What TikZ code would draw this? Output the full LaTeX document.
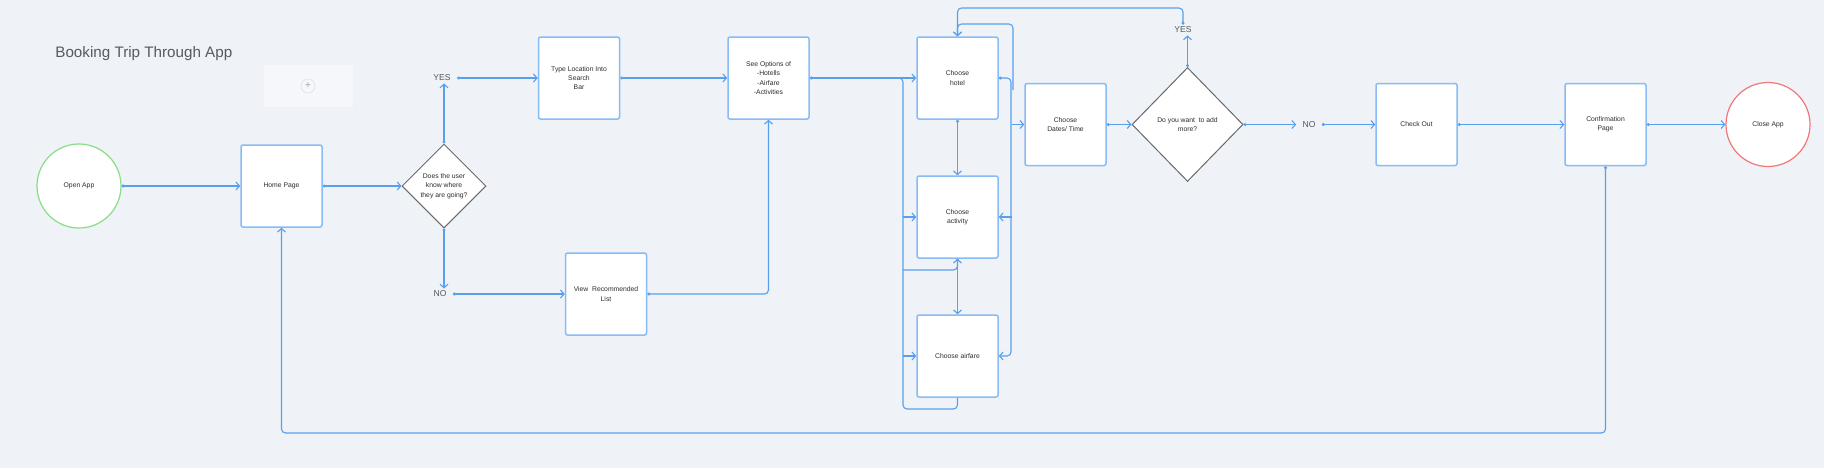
\documentclass[tikz,border=0pt]{standalone}
\usepackage{fontspec}
\setmainfont{Liberation Sans}
\usetikzlibrary{shapes.geometric,arrows.meta}
\definecolor{bgc}{RGB}{239,242,246}
\definecolor{lnc}{RGB}{88,160,238}
\definecolor{boxc}{RGB}{135,188,246}
\definecolor{dmc}{RGB}{105,105,110}
\definecolor{txc}{RGB}{45,45,50}
\definecolor{lbc}{RGB}{85,90,100}
\definecolor{grc}{RGB}{135,222,135}
\definecolor{rdc}{RGB}{240,120,120}
\definecolor{phc}{RGB}{246,247,250}
\tikzset{
  boxtext/.style={font=\fontsize{3.4}{4.7}\selectfont, text=txc, align=center},
  stepbox/.style={boxtext, draw=boxc, line width=0.75pt, fill=white, rounded corners=1pt,
    minimum width=40.5pt, minimum height=41pt, inner sep=0pt},
  decis/.style={boxtext, diamond, draw=dmc, line width=0.5pt, fill=white, inner sep=0pt},
  term/.style={boxtext, circle, line width=0.6pt, fill=white, minimum size=42pt, inner sep=0pt},
  lbl/.style={font=\fontsize{4.3}{5}\selectfont, text=lbc, inner xsep=3pt, inner ysep=1pt},
  line/.style={draw=lnc, line width=0.55pt},
  conn/.style={line, arrows={-Straight Barb[length=1.8pt,width=4pt]}},
  dconn/.style={line, arrows={Circle[length=1.5pt]-Straight Barb[length=1.8pt,width=4pt]}},
}
\begin{document}
\begin{tikzpicture}[x=0.5pt,y=-0.5pt]
\path[fill=bgc,use as bounding box] (0,0) rectangle (1824,468);

% title and placeholder
\node[anchor=base west, font=\fontsize{7.6}{9}\selectfont, text=lbc, inner sep=0pt] (title) at (55,57) {Booking Trip Through App};
\fill[phc] (264,65) rectangle (353,107);
\node[circle, draw=black!12, fill=phc, line width=0.3pt, minimum size=7pt, inner sep=0pt,
  font=\fontsize{5}{5}\selectfont, text=black!35] (plus) at (308,86) {+};

% nodes
\node[term, draw=grc] (openapp) at (79,186) {Open App};
\node[stepbox] (home) at (281.5,186) {Home Page};
\node[decis, minimum width=42pt, minimum height=42pt] (d1) at (444,186) {Does the user\\know where\\they are going?};
\node[lbl] (yes1) at (442,78) {YES};
\node[lbl] (no1) at (440,294) {NO};
\node[stepbox] (typeloc) at (579,78) {Type Location Into\\Search\\Bar};
\node[stepbox] (seeopt) at (768.5,78) {See Options of\\-Hotells\\-Airfare\\-Activities};
\node[stepbox] (viewrec) at (606,294) {View\ \ Recommended\\List};
\node[stepbox] (hotel) at (957.5,78) {Choose\\hotel};
\node[stepbox] (activity) at (957.5,217) {Choose\\activity};
\node[stepbox] (airfare) at (957.5,356) {Choose airfare};
\node[stepbox] (dates) at (1065.5,124.5) {Choose\\Dates/ Time};
\node[decis, minimum width=55.5pt, minimum height=57pt] (d2) at (1187.5,124.5) {Do you want\ \ to add\\more?};
\node[lbl] (yes2) at (1183,30) {YES};
\node[lbl] (no2) at (1309,124.5) {NO};
\node[stepbox] (checkout) at (1416.5,124.5) {Check Out};
\node[stepbox] (confirm) at (1605.5,124.5) {Confirmation\\Page};
\node[term, draw=rdc] (closeapp) at (1768,124.5) {Close App};

% helper coordinates
\coordinate (lbx) at (903,0);
\coordinate (rbx) at (1012,0);
\coordinate (lb) at (903,409);
\coordinate (m270) at (903,270);
\coordinate (rb356) at (1011,356);
\coordinate (rbmid) at (1013,90);
\coordinate (ltop) at (957.5,8);
\coordinate (ltop2) at (957.5,24);
\coordinate (bot) at (1000,433);

% connectors
\draw[dconn] (openapp.east) -- (home.west);
\draw[dconn] (home.east) -- (d1.west);
\draw[dconn] (d1.north) -- (d1.north |- yes1.south);
\draw[dconn] (yes1.east) -- (typeloc.west);
\draw[dconn] (d1.south) -- (d1.south |- no1.north);
\draw[dconn] (no1.east) -- (viewrec.west);
\draw[dconn] (typeloc.east) -- (seeopt.west);
\draw[dconn, rounded corners=2pt] (viewrec.east) -| (seeopt.south);
\draw[line, rounded corners=2pt] (seeopt.east) -| (lb) -| (airfare.south);
\draw[dconn] (seeopt.east) -- (hotel.west);
\draw[conn] (activity.west -| lbx) -- (activity.west);
\draw[conn] (airfare.west -| lbx) -- (airfare.west);
\draw[conn, rounded corners=2pt] (m270) -| (activity.south);
\draw[dconn] (activity.south) -- (airfare.north);
\draw[dconn] (hotel.south) -- (activity.north);
\draw[dconn, rounded corners=2pt] (hotel.east) -| (rb356) -- (airfare.east);
\draw[conn, rounded corners=2pt] (rbmid) |- (ltop2) -- (hotel.north);
\draw[conn] (dates.west -| rbx) -- (dates.west);
\draw[conn] (activity.east -| rbx) -- (activity.east);
\draw[dconn] (dates.east) -- (d2.west);
\draw[dconn] (d2.north) -- (d2.north |- yes2.south);
\draw[dconn, rounded corners=2pt] (yes2.north) |- (ltop) -- (hotel.north);
\draw[dconn] (d2.east) -- (no2.west);
\draw[dconn] (no2.east) -- (checkout.west);
\draw[dconn] (checkout.east) -- (confirm.west);
\draw[dconn] (confirm.east) -- (closeapp.west);
\draw[dconn, rounded corners=2pt] (confirm.south) |- (bot) -| (home.south);
\end{tikzpicture}
\end{document}
